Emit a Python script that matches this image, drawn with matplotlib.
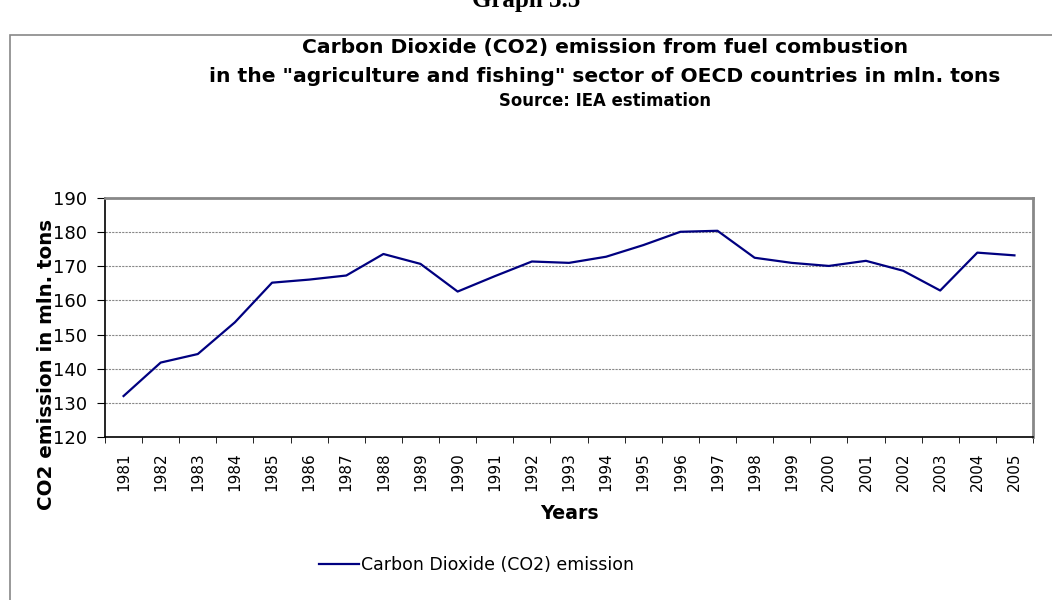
import matplotlib
matplotlib.use('Agg')
import matplotlib.pyplot as plt
from matplotlib.patches import Rectangle

# Données (mln. tonnes)
annees = ['1981', '1982', '1983', '1984', '1985', '1986', '1987', '1988', '1989',
          '1990', '1991', '1992', '1993', '1994', '1995', '1996', '1997', '1998',
          '1999', '2000', '2001', '2002', '2003', '2004', '2005']
emissions = [132.0, 141.8, 144.3, 153.6, 165.2, 166.1, 167.3, 173.6, 170.7,
             162.6, 167.1, 171.4, 171.0, 172.8, 176.2, 180.1, 180.4, 172.5,
             171.0, 170.1, 171.6, 168.7, 162.9, 174.0, 173.2]
graduations_y = [120, 130, 140, 150, 160, 170, 180, 190]

plt.rcParams['font.family'] = ['DejaVu Sans']

fig = plt.figure(figsize=(10.52, 6), dpi=100)

# Cadre autour de la figure
fig.patches.append(Rectangle((10 / 1052, -0.05), 1.2, (600 - 35) / 600 + 0.05,
                             transform=fig.transFigure, fill=False,
                             edgecolor='#888888', linewidth=1.2))

fig.text(0.5, 1.0, 'Graph 3.5', ha='center', va='center', fontsize=18,
         fontweight='bold', family=['Liberation Serif', 'DejaVu Serif'])
fig.text(605 / 1052, 1 - 47 / 600, 'Carbon Dioxide (CO2) emission from fuel combustion',
         ha='center', va='center', fontsize=14.6, fontweight='bold')
fig.text(605 / 1052, 1 - 76 / 600,
         'in the "agriculture and fishing" sector of OECD countries in mln. tons',
         ha='center', va='center', fontsize=14.6, fontweight='bold')
fig.text(605 / 1052, 1 - 101 / 600, 'Source: IEA estimation',
         ha='center', va='center', fontsize=11.9, fontweight='bold')

ax = fig.add_axes([105 / 1052, 163 / 600, 928 / 1052, 239 / 600])
x = list(range(len(annees)))
ax.plot(x, emissions, color='#000080', linewidth=1.6, label='Carbon Dioxide (CO2) emission')

ax.set_xlim(-0.5, len(annees) - 0.5)
ax.set_ylim(120, 190)
ax.set_yticks(graduations_y)
ax.set_yticklabels([str(v) for v in graduations_y], fontsize=13)
ax.set_xticks(x)
ax.set_xticklabels(annees, rotation=90, fontsize=11)
ax.tick_params(axis='x', length=0, pad=11)
ax.set_xticks([i - 0.5 for i in range(len(annees) + 1)], minor=True)
ax.tick_params(axis='x', which='minor', length=4.5, direction='out', color='black')
ax.tick_params(axis='y', length=6, direction='out', pad=7)

ax.yaxis.grid(True, linestyle=(0, (2, 1)), color='#888888', linewidth=0.8)
ax.set_axisbelow(True)

for cote in ['left', 'bottom']:
    ax.spines[cote].set_color('black')
    ax.spines[cote].set_linewidth(1.2)
for cote in ['top', 'right']:
    ax.spines[cote].set_color('#888888')
    ax.spines[cote].set_linewidth(2)

ax.set_xlabel('Years', fontsize=13.7, fontweight='bold', labelpad=9)
ax.set_ylabel('CO2 emission in mln. tons', fontsize=14.3, fontweight='bold')
ax.yaxis.label.set(va='center', ha='center')
ax.yaxis.set_label_coords((46 - 105) / 928, (600 - 364 - 163) / 239)

fig.legend(loc='center left', bbox_to_anchor=(312 / 1052, 1 - 565 / 600), frameon=False,
           fontsize=12.5, handlelength=2.3, handletextpad=0.1, borderaxespad=0)

fig.savefig('out.png', dpi=100)
